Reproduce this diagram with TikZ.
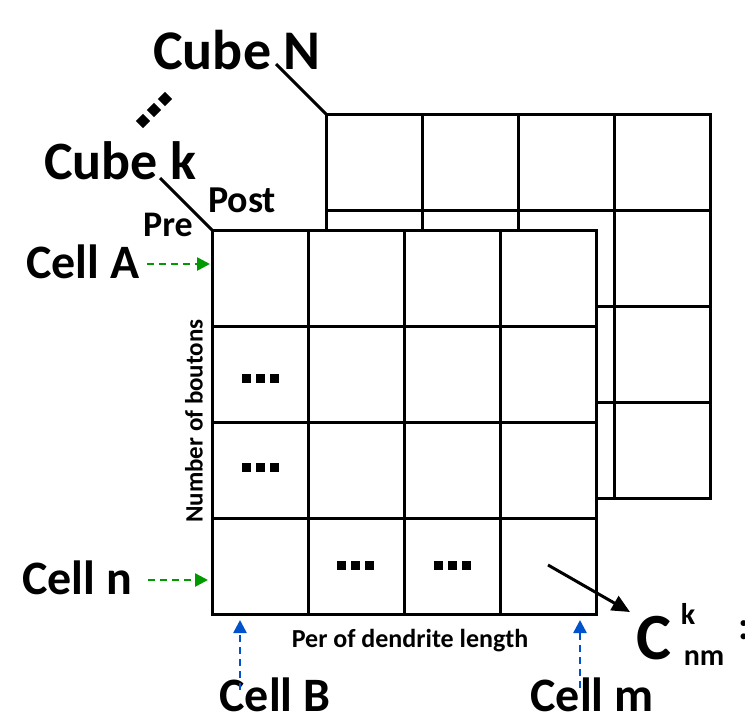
\documentclass[tikz,border=0pt]{standalone}
\usepackage{fontspec}
\setmainfont{Carlito}
\usetikzlibrary{arrows.meta}
\begin{document}
\begin{tikzpicture}[x=1pt,y=-1pt,
  grid/.style={line width=3pt,fill=white},
  gl/.style={line width=3pt},
  lbl/.style={font=\bfseries,inner sep=0pt},
  garrow/.style={draw=green!60!black,line width=2.6pt,dash pattern=on 7pt off 5pt,-{Triangle[length=13pt,width=13pt]}},
  barrow/.style={draw=blue!60!cyan!80!black,line width=2.6pt,dash pattern=on 7pt off 5pt,-{Triangle[length=13pt,width=13pt]}}]
\useasboundingbox (0,0) rectangle (745,716);
% back cube
\draw[grid] (326,114) rectangle (710,498);
\foreach \i in {422,518,614} {\draw[gl] (\i,114) -- (\i,498); \draw[gl] (326,\i-212) -- (710,\i-212);}
\coordinate (bk) at (326,114);
% front cube
\draw[grid] (212,230) rectangle (596,614);
\foreach \i in {308,404,500} {\draw[gl] (\i,230) -- (\i,614); \draw[gl] (212,\i+18) -- (596,\i+18);}
\coordinate (fr) at (212,230);
\node[lbl,font=\bfseries\fontsize{56}{56}\selectfont] (cn) at (237,50) {Cube N};
\node[lbl,font=\bfseries\fontsize{54}{54}\selectfont] (ck) at (120,161) {Cube k};
\coordinate (cnl) at (276,64); \coordinate (ckl) at (160,178);
\draw[gl] (cnl) -- (bk);
\draw[gl] (ckl) -- (fr);
\foreach \x/\y in {143/121,154/110,165/99} \fill[rotate around={45:(\x,\y)}] (\x-5,\y-5) rectangle (\x+5,\y+5);
\node[lbl,font=\bfseries\fontsize{38}{38}\selectfont] (post) at (242,200) {Post};
\node[lbl,font=\bfseries\fontsize{36}{36}\selectfont] (pre) at (168,225) {Pre};
\node[lbl,font=\bfseries\fontsize{48}{48}\selectfont] (ca) at (83,262) {Cell A};
\node[lbl,font=\bfseries\fontsize{48}{48}\selectfont] (cnn) at (77,578) {Cell n};
\node[lbl,font=\bfseries\fontsize{48}{48}\selectfont] (cb) at (275,695) {Cell B};
\node[lbl,font=\bfseries\fontsize{48}{48}\selectfont] (cm) at (592,695) {Cell m};
\coordinate (ta) at (210,264); \coordinate (tn) at (208,580);
\coordinate (tb) at (240,620); \coordinate (tm) at (580,620);
\draw[garrow] (147,264) -- (ta);
\draw[garrow] (148,580) -- (tn);
\draw[barrow] (240,690) -- (tb);
\draw[barrow] (580,688) -- (tm);
\node[lbl,font=\bfseries\fontsize{25}{25}\selectfont,rotate=90] (nb) at (194,421) {Number of boutons};
\node[lbl,font=\bfseries\fontsize{26}{26}\selectfont] (pd) at (410,641) {Per of dendrite length};
\foreach \x/\y in {260/378,260/467,355/565,452/565} {
  \foreach \dx in {-14,0,14} \fill (\x+\dx-4.5,\y-4.5) rectangle (\x+\dx+4.5,\y+4.5);
}
\coordinate (as) at (548,565);
\node[lbl,font=\bfseries\fontsize{66}{66}\selectfont,anchor=west] (c) at (636,638) {C};
\node[lbl,font=\bfseries\fontsize{30}{30}\selectfont] (k) at (688,614) {k};
\node[lbl,font=\bfseries\fontsize{30}{30}\selectfont] (nm) at (704,658) {nm};
\node[lbl,font=\bfseries\fontsize{40}{40}\selectfont,anchor=west] (col) at (738,630) {:};
\draw[line width=3pt,-{Triangle[length=18pt,width=16pt]}] (as) -- (630,612);
\end{tikzpicture}
\end{document}
